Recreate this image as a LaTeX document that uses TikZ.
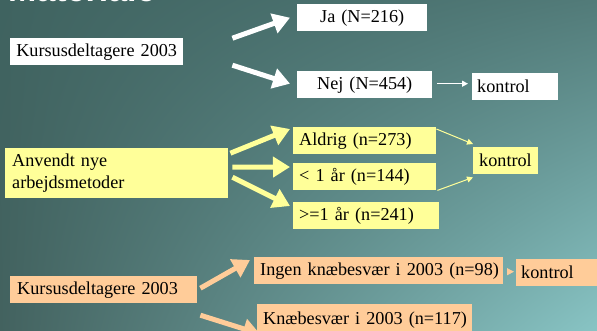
\documentclass[tikz,border=0pt]{standalone}
\usepackage{fontspec}
\setmainfont{Liberation Serif}
\newfontfamily\titlefont{Liberation Sans}
\usetikzlibrary{arrows.meta,shadings}
\definecolor{bgUL}{HTML}{3F6360}
\definecolor{bgUR}{HTML}{527B79}
\definecolor{bgLL}{HTML}{43625F}
\definecolor{bgLR}{HTML}{88C4C4}
\definecolor{yel}{HTML}{FFFF99}
\definecolor{ora}{HTML}{FFCC99}
\tikzset{
  txt/.style={font=\fontsize{18.2}{21}\selectfont, text=black, anchor=north west, inner ysep=0pt, minimum height=27pt},
  wbox/.style={txt, fill=white},
  ybox/.style={txt, fill=yel},
  obox/.style={txt, fill=ora},
  bigarr/.style={line width=5pt, -{Triangle[width=20pt,length=17pt]}},
  smallarr/.style={line width=1.3pt, -{Triangle[width=6pt,length=6pt]}},
}
\begin{document}
\begin{tikzpicture}[x=1pt,y=-1pt]
\clip (0,0) rectangle (597,330);
\shade[upper left=bgUL, upper right=bgUR, lower left=bgLL, lower right=bgLR] (0,0) rectangle (597,330);
% title (cut off at top)
\node[anchor=base west, inner sep=0pt, text=white, font=\titlefont\bfseries\fontsize{34}{40}\selectfont] (title) at (8,1.5) {Materiale};
% white group
\node[wbox, inner xsep=0pt, text width=173pt, align=center] (kd1) at (10,38) {Kursusdeltagere 2003};
\node[wbox, inner xsep=0pt, text width=130pt, align=center] (ja) at (297,4) {Ja (N=216)};
\node[wbox, inner xsep=0pt, text width=135pt, align=center] (nej) at (297,71) {Nej (N=454)};
\node[wbox, inner xsep=5pt, text width=76pt, align=left] (k1) at (472,73) {kontrol};
\draw[bigarr, white] ([shift={(49,-13.5)}]kd1.east) -- ([shift={(-7,0)}]ja.west);
\draw[bigarr, white] ([shift={(49,13.5)}]kd1.east) -- ([shift={(-7,-1)}]nej.west);
\draw[smallarr, white] ([shift={(5,-1)}]nej.east) -- ([shift={(-4,-3)}]k1.west);
% yellow group
\node[ybox, inner xsep=7pt, text width=209pt, align=left, minimum height=50pt, font=\fontsize{18.2}{21.5}\selectfont] (anv) at (5,148) {Anvendt nye\\arbejdsmetoder};
\node[ybox, inner xsep=6pt, text width=131pt, align=left] (ald) at (293,127) {\mbox{Aldrig (n=273)}};
\node[ybox, inner xsep=6pt, text width=131pt, align=left] (lt1) at (293,163) {\mbox{< 1 år (n=144)}};
\node[ybox, inner xsep=6pt, text width=134pt, align=left] (ge1) at (293,202) {\mbox{>=1 år (n=241)}};
\node[ybox, inner xsep=6pt, text width=53pt, align=left] (k2) at (473,147) {\mbox{kontrol}};
\draw[bigarr, yel] ([shift={(2,-20)}]anv.east) -- ([shift={(-3,2)}]ald.north west);
\draw[bigarr, yel] ([shift={(4,-6)}]anv.east) -- ([shift={(-3,4)}]lt1.north west);
\draw[bigarr, yel] ([shift={(4,4)}]anv.east) -- ([shift={(-3,4)}]ge1.north west);
\draw[smallarr, yel, line width=1pt] ([shift={(0,2)}]ald.north east) -- ([shift={(0,-3)}]k2.north west);
\draw[smallarr, yel, line width=1pt] ([shift={(1,0)}]lt1.south east) -- ([shift={(0,3)}]k2.south west);
% orange group
\node[obox, inner xsep=7pt, text width=173pt, align=left] (kd2) at (10,276) {\mbox{Kursusdeltagere 2003}};
\node[obox, inner xsep=6pt, text width=237pt, align=left] (ing) at (254,257) {\mbox{Ingen knæbesvær i 2003 (n=98)}};
\node[obox, inner xsep=5pt, text width=80pt, align=left] (k3) at (516,259) {\mbox{kontrol}};
\node[obox, inner xsep=6pt, text width=203pt, align=left, minimum height=32pt] (knae) at (257,304) {\mbox{Knæbesvær i 2003 (n=117)}};
\draw[bigarr, ora] ([shift={(3,-1.5)}]kd2.east) -- ([shift={(-4,3)}]ing.north west);
\draw[bigarr, ora] ([shift={(3,25.5)}]kd2.east) -- ([shift={(3,30)}]knae.north west);
\draw[ora, -{Triangle[width=7pt,length=7pt]}, line width=0.8pt] ([shift={(4,1)}]ing.east) -- ([shift={(-2,-1)}]k3.west);
\end{tikzpicture}
\end{document}
